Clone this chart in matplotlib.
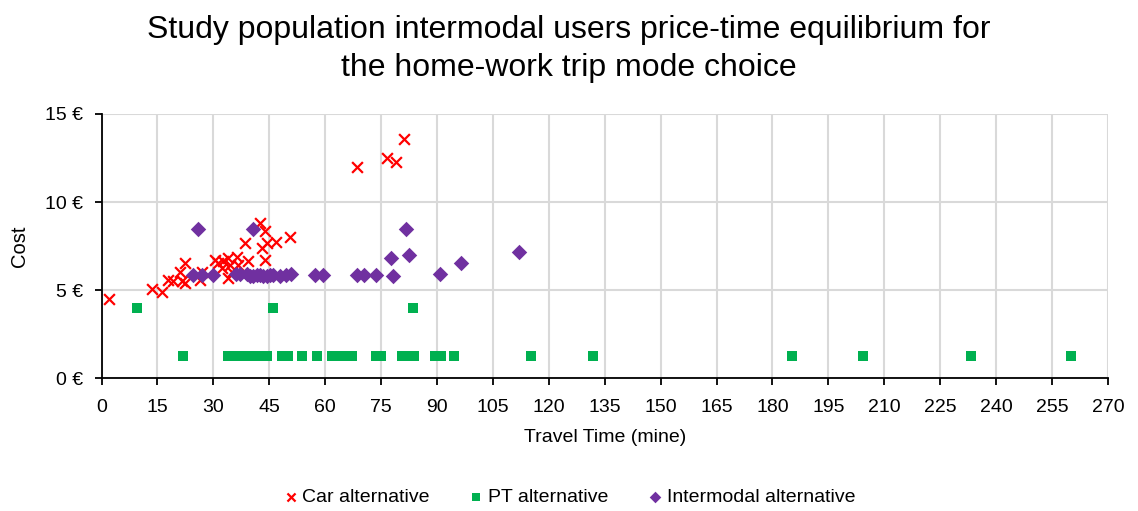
import matplotlib
matplotlib.use("Agg")
import matplotlib.pyplot as plt
from matplotlib.ticker import MultipleLocator, FuncFormatter

plt.rcParams['font.family'] = ['Liberation Sans', 'DejaVu Sans']

# Travel time (minutes) and cost (EUR) for each alternative
car_time = [2.0, 13.6, 16.1, 17.9, 19.3, 21.1, 22.4, 21.5, 22.4, 26.4, 26.9,
            30.4, 31.3, 32.7, 32.2, 34.0, 34.5, 34.9, 34.0, 36.3, 36.7, 38.5,
            39.4, 42.5, 43.9, 43.0, 44.3, 43.9, 46.9, 50.6, 68.6, 76.7, 78.9,
            81.2]
car_cost = [4.5, 5.1, 4.9, 5.6, 5.5, 6.05, 6.55, 5.5, 5.4, 5.6, 6.05,
            6.7, 6.55, 6.65, 6.25, 6.85, 6.45, 6.05, 5.7, 6.9, 6.45, 7.7,
            6.65, 8.8, 8.35, 7.4, 7.7, 6.7, 7.75, 8.0, 12.0, 12.5, 12.25,
            13.6]

pt_time = [9.6, 45.9, 83.6, 21.8, 34.0, 36.0, 38.0, 40.0, 42.0, 44.3, 48.5,
           50.0, 53.7, 57.7, 61.9, 64.6, 67.3, 73.6, 75.0, 80.5, 82.2, 83.9,
           89.5, 91.1, 94.5, 115.1, 131.8, 185.2, 204.3, 233.2, 260.1]
pt_cost = [4.0, 4.0, 4.0] + [1.3] * 28

int_time = [26.0, 40.7, 24.6, 26.9, 29.9, 36.0, 37.2, 38.9, 39.8, 40.7, 41.6,
            42.5, 43.4, 44.3, 45.2, 46.1, 47.9, 49.6, 50.9, 57.3, 59.3, 68.5,
            70.4, 73.6, 77.6, 78.1, 81.6, 82.5, 90.8, 96.4, 111.9]
int_cost = [8.5, 8.5, 5.85, 5.85, 5.85, 5.95, 5.9, 5.9, 5.8, 5.8, 5.85,
            5.85, 5.8, 5.8, 5.85, 5.85, 5.8, 5.85, 5.95, 5.85, 5.85, 5.85,
            5.85, 5.85, 6.85, 5.8, 8.5, 7.0, 5.9, 6.55, 7.15]

fig = plt.figure(figsize=(11.38, 5.11), dpi=100)
ax = fig.add_axes([0.0892, 0.2593, 0.8844, 0.5177])

ax.scatter(car_time, car_cost, marker='x', s=60, color='#ff0000',
           linewidths=1.6, label='Car alternative', zorder=3)
ax.scatter(pt_time, pt_cost, marker='s', s=52, color='#00b050',
           linewidths=0, label='PT alternative', zorder=3)
ax.scatter(int_time, int_cost, marker='D', s=62, color='#7030a0',
           linewidths=0, label='Intermodal alternative', zorder=3)

ax.set_xlim(0, 270)
ax.set_ylim(0, 15)
ax.xaxis.set_major_locator(MultipleLocator(15))
ax.yaxis.set_major_locator(MultipleLocator(5))
ax.yaxis.set_major_formatter(FuncFormatter(lambda v, p: f"{v:.0f} \u20ac"))

ax.grid(True, color='#d9d9d9', linewidth=1.5)
ax.set_axisbelow(True)
for s in ['top', 'right']:
    ax.spines[s].set_visible(False)
for s in ['left', 'bottom']:
    ax.spines[s].set_color('black')
    ax.spines[s].set_linewidth(1.3)
ax.tick_params(direction='out', length=5, width=1.3, labelsize=14,
               colors='black')
ax.tick_params(axis='x', pad=10)
ax.tick_params(axis='y', pad=8)

ax.set_xlabel('Travel Time (mine)', fontsize=14, labelpad=9)
ax.set_ylabel('Cost', fontsize=14.5, labelpad=12)

fig.suptitle('Study population intermodal users price-time equilibrium for\n'
             'the home-work trip mode choice',
             fontsize=23, y=0.97, linespacing=1.35)

fig.legend(loc='center', bbox_to_anchor=(0.5, 0.027), ncol=3, frameon=False,
           fontsize=14, handlelength=0.8, handletextpad=0.2,
           columnspacing=2.0, markerscale=0.75)

fig.savefig('out.png', dpi=100)
